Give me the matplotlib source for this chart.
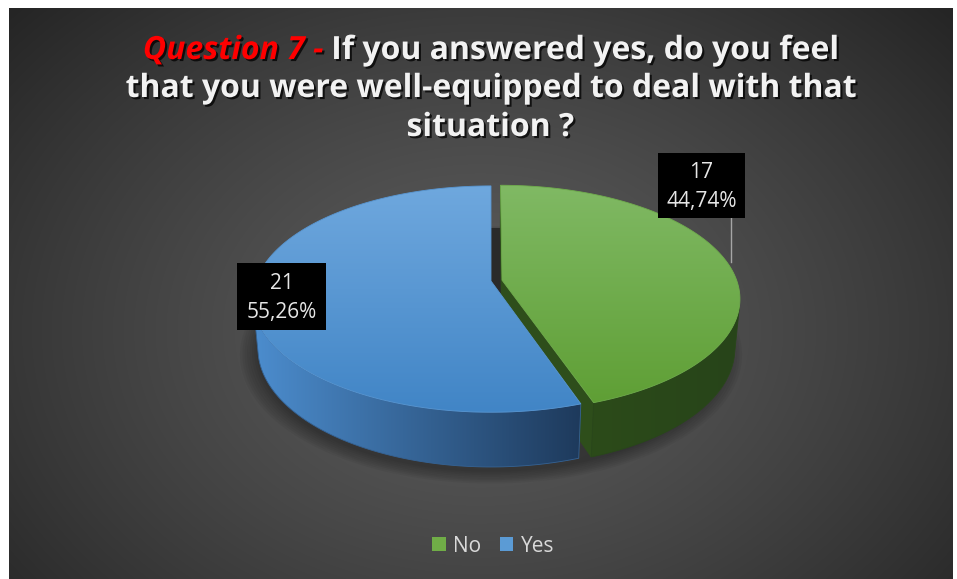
import numpy as np
import matplotlib
matplotlib.use("Agg")
import matplotlib.pyplot as plt
from matplotlib.patches import Polygon, Rectangle
from matplotlib.colors import LinearSegmentedColormap
import matplotlib.patheffects as pe

# ---- data ---------------------------------------------------------------
categories = ["No", "Yes"]
counts = [17, 21]
title_prefix = "Question 7 - "
title_lines = ["If you answered yes, do you feel",
               "that you were well-equipped to deal with that",
               "situation ?"]

# ---- styles -------------------------------------------------------------
base_colors = ["#70ad47", "#5b9bd5"]
top_grad = [("#80b964", "#5f9f35"), ("#6fa8de", "#4185c6")]
wall_grad = [("#2c4b19", "#27441a"), ("#4c8dce", "#1e3a5c")]
face_color = ["#2e4e1b", "#264a6e"]
explode = [0.0475, 0.0]

W, H = 957, 579
fig = plt.figure(figsize=(W / 100, H / 100), dpi=100)
fig.patch.set_facecolor("white")
ax = fig.add_axes([0, 0, 1, 1])
ax.axis("off")

# ---- background panel with radial shading -------------------------------
px0, px1, py0, py1 = 9, 953, 8, 579
yy, xx = np.mgrid[py0:py1, px0:px1].astype(float)
r = np.sqrt(((xx - 480) / 560) ** 2 + ((yy - 330) / 420) ** 2)
val = 92 - (92 - 36) * np.clip(r / 1.15, 0, 1) ** 1.3
bg = np.dstack([val, val, val]) / 255.0
ax.imshow(bg, extent=(px0, px1, py1, py0), origin="upper", aspect="auto",
          zorder=0, interpolation="bilinear")

# ---- perspective projection of the pie -----------------------------------
ELEV = np.radians(28.0)
DIST = 5.53
FOC = 1299.0
THICK = 0.24
VX, VY = 491.0, 281.0


def project(X, Y, Z):
    X = np.asarray(X, float)
    Y = np.asarray(Y, float)
    Z = np.asarray(Z, float)
    depth = DIST + Y * np.cos(ELEV) - Z * np.sin(ELEV)
    up = Y * np.sin(ELEV) + Z * np.cos(ELEV)
    return np.column_stack([VX + FOC * X / depth, VY - FOC * up / depth])


def gradient_fill(verts, c0, c1, direction, zorder):
    poly = Polygon(verts, closed=True, facecolor="none", edgecolor="none",
                   zorder=zorder)
    ax.add_patch(poly)
    x0, x1 = verts[:, 0].min(), verts[:, 0].max()
    y0, y1 = verts[:, 1].min(), verts[:, 1].max()
    t = np.linspace(0, 1, 256)
    if direction == "vertical":
        grad = np.repeat(t[:, None], 2, axis=1)
    else:
        grad = np.repeat(t[None, :], 2, axis=0)
    cmap = LinearSegmentedColormap.from_list("g", [c0, c1])
    im = ax.imshow(grad, cmap=cmap, extent=(x0, x1, y1, y0), origin="upper",
                   aspect="auto", zorder=zorder, interpolation="bilinear")
    im.set_clip_path(poly)
    # thin outline in the mean colour keeps the clipped edge smooth
    edge = Polygon(verts, closed=True, facecolor="none",
                   edgecolor=LinearSegmentedColormap.from_list("e", [c0, c1])(0.5),
                   lw=0.6, zorder=zorder)
    ax.add_patch(edge)


total = float(sum(counts))
fracs = [c / total for c in counts]
starts = np.concatenate([[0.0], np.cumsum(fracs)[:-1]]) * 360.0
ends = np.cumsum(fracs) * 360.0

slices = []
for i in range(len(counts)):
    a0, a1 = starts[i], ends[i]
    mid = np.radians((a0 + a1) / 2)
    ox, oy = explode[i] * np.sin(mid), explode[i] * np.cos(mid)
    slices.append((i, a0, a1, ox, oy))

# soft shadow under the pie
th_full = np.radians(np.linspace(0, 360, 361))
for k, s in enumerate(np.linspace(1.07, 1.0, 8)):
    ring = project(s * np.sin(th_full), s * np.cos(th_full) - 0.03,
                   np.full_like(th_full, -THICK))
    ax.add_patch(Polygon(ring, closed=True, facecolor="black", edgecolor="none",
                         alpha=0.045, zorder=1))

# dark shading inside the gap between the two slices
gap_l = project(0, 0, 0)[0][0]
gap_r = project(slices[0][3], slices[0][4], 0)[0][0]
top_rim = project(0, 1, 0)[0][1]
ax.add_patch(Rectangle((gap_l, top_rim + 42), gap_r - gap_l, 80,
                       facecolor="#2a2a2a", edgecolor="none", zorder=1.5))

# draw farther slices first
order = sorted(slices, key=lambda s: -np.cos(np.radians((s[1] + s[2]) / 2)))
z = 2
for (i, a0, a1, ox, oy) in order:
    th = np.radians(np.linspace(a0, a1, 300))
    # radial faces
    for ang, nrm in ((a1, (np.cos(np.radians(a1)), -np.sin(np.radians(a1)))),
                     (a0, (-np.cos(np.radians(a0)), np.sin(np.radians(a0))))):
        vis = nrm[0] * ox + nrm[1] * (oy + DIST * np.cos(ELEV))
        if vis < -1e-3:
            t = np.radians(ang)
            pts = np.array([[ox, oy, 0], [ox + np.sin(t), oy + np.cos(t), 0],
                            [ox + np.sin(t), oy + np.cos(t), -THICK],
                            [ox, oy, -THICK]])
            P = project(pts[:, 0], pts[:, 1], pts[:, 2])
            ax.add_patch(Polygon(P, closed=True, facecolor=face_color[i],
                                 edgecolor=face_color[i], lw=0.6, zorder=z))
    # outer wall, only where it faces the viewer
    vis = ox * np.sin(th) + oy * np.cos(th) + 1 + DIST * np.cos(ELEV) * np.cos(th)
    m = vis < 0
    if m.any():
        tw = th[m]
        topw = project(ox + np.sin(tw), oy + np.cos(tw), np.zeros_like(tw))
        botw = project(ox + np.sin(tw), oy + np.cos(tw), np.full_like(tw, -THICK))
        gradient_fill(np.vstack([topw, botw[::-1]]), *wall_grad[i],
                      "horizontal", z + 0.1)
    # top face
    rim = project(ox + np.sin(th), oy + np.cos(th), np.zeros_like(th))
    ctr = project(ox, oy, 0)
    gradient_fill(np.vstack([ctr, rim]), *top_grad[i], "vertical", z + 0.2)
    z += 1

# ---- data labels ----------------------------------------------------------
label_boxes = [(658, 153, 87, 65), (237, 263, 89, 67)]
label_font = ["Open Sans", "DejaVu Sans"]
for i, (bx, by, bw, bh) in enumerate(label_boxes):
    ax.add_patch(Rectangle((bx, by), bw, bh, facecolor="black",
                           edgecolor="none", zorder=20))
    pct = f"{100 * fracs[i]:.2f}%".replace(".", ",")
    ax.text(bx + bw / 2, by + bh * 0.30, f"{counts[i]}", ha="center",
            va="center", color="#e6e6e6", fontsize=15, family=label_font,
            zorder=21)
    ax.text(bx + bw / 2, by + bh * 0.74, pct, ha="center", va="center",
            color="#e6e6e6", fontsize=15, family=label_font, zorder=21)

# leader line for the "No" label
i0, a0, a1, ox, oy = slices[0]
t = np.radians(80)
lp = project(ox + np.sin(t), oy + np.cos(t), 0)[0]
bx, by, bw, bh = label_boxes[0]
ax.plot([bx + 73, bx + 73], [by + bh, lp[1]], color="#a6a6a6", lw=1,
        zorder=19)

# ---- title -----------------------------------------------------------------
title_font = ["Open Sans", "DejaVu Sans"]
renderer = fig.canvas.get_renderer()
ax.set_xlim(0, W)
ax.set_ylim(H, 0)
shadow = [pe.withSimplePatchShadow(offset=(1.5, -1.5), shadow_rgbFace="black",
                                   alpha=0.75)]
probe = ax.text(0, 0, title_lines[1], fontsize=20, fontweight="bold",
                family=title_font)
w_probe = probe.get_window_extent(renderer).width
probe.remove()
tsize = 20 * 731 / w_probe

baselines = [59, 97, 136]
# first line: red italic prefix followed by white text
p1 = ax.text(0, baselines[0], title_prefix, fontsize=tsize, fontweight="bold",
             style="italic", color="#ff0000", family=title_font, va="baseline",
             ha="left", zorder=30, path_effects=shadow)
p2 = ax.text(0, baselines[0], title_lines[0], fontsize=tsize,
             fontweight="bold", color="#f2f2f2", family=title_font,
             va="baseline", ha="left", zorder=30, path_effects=shadow)
w1 = p1.get_window_extent(renderer).width
w2 = p2.get_window_extent(renderer).width
x_start = 490 - (w1 + w2) / 2
p1.set_x(x_start)
p2.set_x(x_start + w1)
for k in (1, 2):
    ax.text(490, baselines[k], title_lines[k], fontsize=tsize,
            fontweight="bold", color="#f2f2f2", family=title_font,
            va="baseline", ha="center", zorder=30, path_effects=shadow)

# ---- legend ----------------------------------------------------------------
handles = [Rectangle((0, 0), 1, 1, facecolor=c, edgecolor="none")
           for c in base_colors]
leg = ax.legend(handles, categories, loc="center", ncol=2, frameon=False,
                bbox_to_anchor=(493 / W, 1 - 546 / H),
                prop={"family": label_font, "size": 15},
                labelcolor="#d9d9d9", handlelength=0.65, handleheight=0.65,
                handletextpad=0.35, columnspacing=0.9)

ax.set_xlim(0, W)
ax.set_ylim(H, 0)
fig.savefig("out.png", dpi=100, facecolor="white")
